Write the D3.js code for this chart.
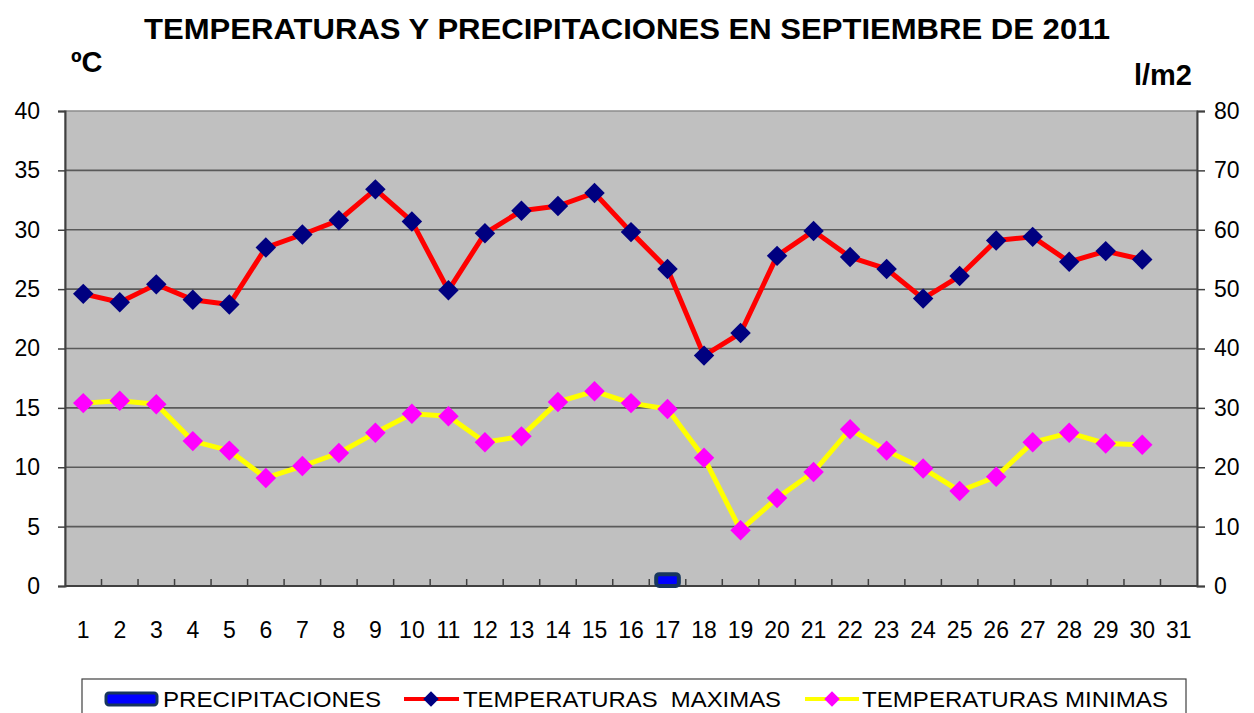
<!DOCTYPE html>
<html>
<head>
<meta charset="utf-8">
<script src="https://cdn.jsdelivr.net/npm/d3@7"></script>
<style>
  body { margin: 0; background: #fff; }
  svg text { font-family: Arial, "Liberation Sans", sans-serif; }
</style>
</head>
<body>
<svg id="chart" width="1254" height="713"></svg>
<script>
// datos de septiembre 2011
var dias = d3.range(1, 32);
var tMax = [24.6, 23.9, 25.4, 24.1, 23.7, 28.5, 29.6, 30.8, 33.4, 30.7,
            24.9, 29.7, 31.6, 32.0, 33.1, 29.8, 26.7, 19.4, 21.3, 27.8,
            29.9, 27.7, 26.7, 24.2, 26.1, 29.1, 29.4, 27.3, 28.2, 27.5];
var tMin = [15.4, 15.6, 15.3, 12.2, 11.4, 9.1, 10.1, 11.2, 12.9, 14.5,
            14.3, 12.1, 12.6, 15.5, 16.4, 15.4, 14.9, 10.8, 4.7, 7.4,
            9.6, 13.2, 11.4, 9.9, 8.0, 9.2, 12.1, 12.9, 12.0, 11.9];
var precip = [0, 0, 0, 0, 0, 0, 0, 0, 0, 0,
              0, 0, 0, 0, 0, 0, 2.0, 0, 0, 0,
              0, 0, 0, 0, 0, 0, 0, 0, 0, 0];
var ticksTemp = [0, 5, 10, 15, 20, 25, 30, 35, 40];
var ticksLluvia = [0, 10, 20, 30, 40, 50, 60, 70, 80];

var svg = d3.select("#chart");
var L = 65, R = 1197, T = 111, B = 586;

var x = d3.scaleBand().domain(dias).range([L, R]);
var y = d3.scaleLinear().domain([0, 40]).range([B, T]);
var y2 = d3.scaleLinear().domain([0, 80]).range([B, T]);

// fondo
svg.append("rect").attr("x", L).attr("y", T).attr("width", R - L).attr("height", B - T)
  .attr("fill", "#c0c0c0").attr("stroke", "#8c8c8c").attr("stroke-width", 1.5);

// rejilla
svg.append("g").selectAll("line").data(ticksTemp.slice(1, -1)).join("line")
  .attr("x1", L).attr("x2", R).attr("y1", d => y(d)).attr("y2", d => y(d))
  .attr("stroke", "#5a5a5a").attr("stroke-width", 1.6);

// ejes
var axL = svg.append("g").attr("transform", "translate(" + L + ",0)")
  .call(d3.axisLeft(y).tickValues(ticksTemp).tickSize(7).tickPadding(18));
var axR = svg.append("g").attr("transform", "translate(" + R + ",0)")
  .call(d3.axisRight(y2).tickValues(ticksLluvia).tickSize(8).tickPadding(9));
var axB = svg.append("g").attr("transform", "translate(0," + B + ")")
  .call(d3.axisBottom(x).tickSize(0).tickPadding(36));
[axL, axR, axB].forEach(function (a) {
  a.select(".domain").attr("stroke", "#404040").attr("stroke-width", 2);
  a.selectAll(".tick line").attr("stroke", "#404040").attr("stroke-width", 1.5);
  a.selectAll("text").attr("font-size", 23).attr("fill", "#000")
    .style("font-family", "Arial, 'Liberation Sans', sans-serif");
});
axB.select(".domain").remove();
svg.append("line").attr("x1", L).attr("x2", R).attr("y1", B).attr("y2", B)
  .attr("stroke", "#404040").attr("stroke-width", 2);
// marcas interiores del eje x
svg.append("g").selectAll("line").data(dias.slice(1)).join("line")
  .attr("x1", d => x(d)).attr("x2", d => x(d)).attr("y1", B).attr("y2", B - 7)
  .attr("stroke", "#404040").attr("stroke-width", 1.5);

// barras de precipitacion
var bw = x.bandwidth() * 0.62;
svg.append("g").selectAll("rect").data(dias.filter((d, i) => precip[i] > 0)).join("rect")
  .attr("x", d => x(d) + (x.bandwidth() - bw) / 2)
  .attr("y", d => y2(precip[d - 1]))
  .attr("width", bw)
  .attr("height", d => B - y2(precip[d - 1]))
  .attr("rx", 3)
  .attr("fill", "#0000ff").attr("stroke", "#17365d").attr("stroke-width", 4);

var cx = d => x(d) + x.bandwidth() / 2;
var diamond = d3.symbol().type(d3.symbolSquare).size(210);

function serie(vals, colLinea, colMarca) {
  var pts = vals.map((v, i) => [cx(dias[i]), y(v)]);
  svg.append("path").datum(pts)
    .attr("d", d3.line())
    .attr("fill", "none").attr("stroke", colLinea).attr("stroke-width", 5)
    .attr("stroke-linejoin", "round");
  svg.append("g").selectAll("path").data(pts).join("path")
    .attr("d", diamond)
    .attr("transform", d => "translate(" + d[0] + "," + d[1] + ") rotate(45)")
    .attr("fill", colMarca);
}
serie(tMax, "#ff0000", "#000080");
serie(tMin, "#ffff00", "#ff00ff");

// titulos
svg.append("text").attr("x", 627).attr("y", 39).attr("text-anchor", "middle")
  .attr("font-size", 30).attr("font-weight", "bold")
  .attr("textLength", 966).attr("lengthAdjust", "spacingAndGlyphs")
  .text("TEMPERATURAS Y PRECIPITACIONES EN SEPTIEMBRE DE 2011");
svg.append("text").attr("x", 71).attr("y", 72).attr("font-size", 29).attr("font-weight", "bold")
  .text("ºC");
svg.append("text").attr("x", 1192).attr("y", 85).attr("text-anchor", "end")
  .attr("font-size", 29).attr("font-weight", "bold").text("l/m2");

// leyenda
var lg = svg.append("g");
lg.append("rect").attr("x", 82).attr("y", 679).attr("width", 1104).attr("height", 60)
  .attr("fill", "#fff").attr("stroke", "#404040").attr("stroke-width", 1.2);
var ly = 699;
lg.append("rect").attr("x", 106).attr("y", ly - 6).attr("width", 51).attr("height", 12)
  .attr("rx", 3).attr("fill", "#0000ff").attr("stroke", "#17365d").attr("stroke-width", 3);
lg.append("line").attr("x1", 404).attr("x2", 459).attr("y1", ly).attr("y2", ly)
  .attr("stroke", "#ff0000").attr("stroke-width", 4);
lg.append("path").attr("d", d3.symbol().type(d3.symbolSquare).size(120))
  .attr("transform", "translate(431," + ly + ") rotate(45)").attr("fill", "#000080");
lg.append("line").attr("x1", 805).attr("x2", 859).attr("y1", ly).attr("y2", ly)
  .attr("stroke", "#ffff00").attr("stroke-width", 4);
lg.append("path").attr("d", d3.symbol().type(d3.symbolSquare).size(120))
  .attr("transform", "translate(832," + ly + ") rotate(45)").attr("fill", "#ff00ff");
var legTxt = [
  { t: "PRECIPITACIONES", x: 163, w: 218 },
  { t: "TEMPERATURAS  MAXIMAS", x: 463, w: 318 },
  { t: "TEMPERATURAS MINIMAS", x: 862, w: 306 }
];
lg.selectAll("text.lt").data(legTxt).join("text").attr("class", "lt")
  .attr("x", d => d.x).attr("y", ly + 8).attr("font-size", 22)
  .attr("textLength", d => d.w).attr("lengthAdjust", "spacingAndGlyphs")
  .style("white-space", "pre")
  .text(d => d.t);
</script>
</body>
</html>
